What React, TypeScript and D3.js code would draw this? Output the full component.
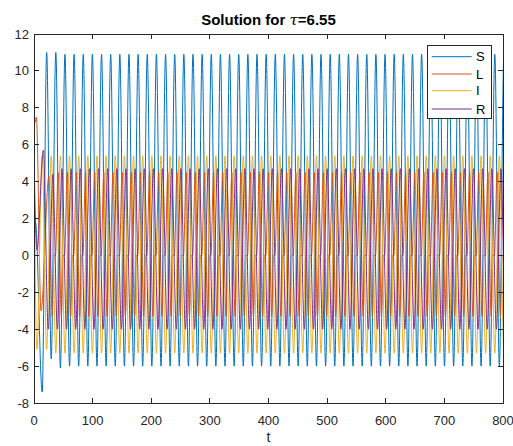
import React from 'react';
import * as d3 from 'd3';

// Times of the S maxima in the steady oscillation (one per cycle)
const cycleT = [
  21.6, 37.2, 52.8, 68.4, 84.0, 99.6, 115.2, 130.8, 146.4, 162.0,
  177.6, 193.2, 208.8, 224.4, 240.0, 255.6, 271.2, 286.8, 302.4, 318.0,
  333.6, 349.2, 364.8, 380.4, 396.0, 411.6, 427.2, 442.8, 458.4, 474.0,
  489.6, 505.2, 520.8, 536.4, 552.0, 567.6, 583.2, 598.8, 614.4, 630.0,
  645.6, 661.2, 676.8, 692.4, 708.0, 723.6, 739.2, 754.8, 770.4, 786.0,
  801.6,
];

// Per-cycle maxima / minima of each compartment
const sHigh = [11.0, 11.0, 10.9, 10.9, 10.9, 10.9, 10.9, 10.9, 10.9, 10.9, 10.9, 10.9, 10.9, 10.9, 10.9, 10.9, 10.9, 10.9, 10.9, 10.9, 10.9, 10.9, 10.9, 10.9, 10.9, 10.9, 10.9, 10.9, 10.9, 10.9, 10.9, 10.9, 10.9, 10.9, 10.9, 10.9, 10.9, 10.9, 10.9, 10.9, 10.9, 10.9, 10.9, 10.9, 10.9, 10.9, 10.9, 10.9, 10.9, 10.9, 10.9];
const sLow = [-5.6, -6.1, -6.0, -6.0, -6.0, -6.0, -6.0, -6.0, -6.0, -6.0, -6.0, -6.0, -6.0, -6.0, -6.0, -6.0, -6.0, -6.0, -6.0, -6.0, -6.0, -6.0, -6.0, -6.0, -6.0, -6.0, -6.0, -6.0, -6.0, -6.0, -6.0, -6.0, -6.0, -6.0, -6.0, -6.0, -6.0, -6.0, -6.0, -6.0, -6.0, -6.0, -6.0, -6.0, -6.0, -6.0, -6.0, -6.0, -6.0, -6.0, -6.0];
const lHigh = [4.3, 4.5, 4.5, 4.5, 4.5, 4.5, 4.5, 4.5, 4.5, 4.5, 4.5, 4.5, 4.5, 4.5, 4.5, 4.5, 4.5, 4.5, 4.5, 4.5, 4.5, 4.5, 4.5, 4.5, 4.5, 4.5, 4.5, 4.5, 4.5, 4.5, 4.5, 4.5, 4.5, 4.5, 4.5, 4.5, 4.5, 4.5, 4.5, 4.5, 4.5, 4.5, 4.5, 4.5, 4.5, 4.5, 4.5, 4.5, 4.5, 4.5, 4.5];
const lLow = [-3.3, -3.3, -3.3, -3.3, -3.3, -3.3, -3.3, -3.3, -3.3, -3.3, -3.3, -3.3, -3.3, -3.3, -3.3, -3.3, -3.3, -3.3, -3.3, -3.3, -3.3, -3.3, -3.3, -3.3, -3.3, -3.3, -3.3, -3.3, -3.3, -3.3, -3.3, -3.3, -3.3, -3.3, -3.3, -3.3, -3.3, -3.3, -3.3, -3.3, -3.3, -3.3, -3.3, -3.3, -3.3, -3.3, -3.3, -3.3, -3.3, -3.3, -3.3];
// L lingers near zero on its way back up from each minimum
const lRest = [0, 0, 0, 0, 0, 0, 0, 0, 0, 0, 0, 0, 0, 0, 0, 0, 0, 0, 0, 0, 0, 0, 0, 0, 0, 0, 0, 0, 0, 0, 0, 0, 0, 0, 0, 0, 0, 0, 0, 0, 0, 0, 0, 0, 0, 0, 0, 0, 0, 0, 0];
const iHigh = [5.4, 5.4, 5.4, 5.4, 5.4, 5.4, 5.4, 5.4, 5.4, 5.4, 5.4, 5.4, 5.4, 5.4, 5.4, 5.4, 5.4, 5.4, 5.4, 5.4, 5.4, 5.4, 5.4, 5.4, 5.4, 5.4, 5.4, 5.4, 5.4, 5.4, 5.4, 5.4, 5.4, 5.4, 5.4, 5.4, 5.4, 5.4, 5.4, 5.4, 5.4, 5.4, 5.4, 5.4, 5.4, 5.4, 5.4, 5.4, 5.4, 5.4, 5.4];
const iLow = [-5.1, -5.3, -5.3, -5.3, -5.3, -5.3, -5.3, -5.3, -5.3, -5.3, -5.3, -5.3, -5.3, -5.3, -5.3, -5.3, -5.3, -5.3, -5.3, -5.3, -5.3, -5.3, -5.3, -5.3, -5.3, -5.3, -5.3, -5.3, -5.3, -5.3, -5.3, -5.3, -5.3, -5.3, -5.3, -5.3, -5.3, -5.3, -5.3, -5.3, -5.3, -5.3, -5.3, -5.3, -5.3, -5.3, -5.3, -5.3, -5.3, -5.3, -5.3];
const rHigh = [4.4, 4.7, 4.7, 4.7, 4.7, 4.7, 4.7, 4.7, 4.7, 4.7, 4.7, 4.7, 4.7, 4.7, 4.7, 4.7, 4.7, 4.7, 4.7, 4.7, 4.7, 4.7, 4.7, 4.7, 4.7, 4.7, 4.7, 4.7, 4.7, 4.7, 4.7, 4.7, 4.7, 4.7, 4.7, 4.7, 4.7, 4.7, 4.7, 4.7, 4.7, 4.7, 4.7, 4.7, 4.7, 4.7, 4.7, 4.7, 4.7, 4.7, 4.7];
const rLow = [-4.0, -4.0, -4.0, -4.0, -4.0, -4.0, -4.0, -4.0, -4.0, -4.0, -4.0, -4.0, -4.0, -4.0, -4.0, -4.0, -4.0, -4.0, -4.0, -4.0, -4.0, -4.0, -4.0, -4.0, -4.0, -4.0, -4.0, -4.0, -4.0, -4.0, -4.0, -4.0, -4.0, -4.0, -4.0, -4.0, -4.0, -4.0, -4.0, -4.0, -4.0, -4.0, -4.0, -4.0, -4.0, -4.0, -4.0, -4.0, -4.0, -4.0, -4.0];

// Start-up transient before the steady cycle sets in: [t, value]
const sStart: [number, number][] = [[0, 1.5], [2.5, 1.8], [14, -7.4]];
const lStart: [number, number][] = [[0, 7.7], [1.5, 7.2], [4, 7.5], [12, -3.0]];
const iStart: [number, number][] = [[0, 5.2], [5, -5.1], [14, 5.4]];
const rStart: [number, number][] = [[0, 5.3], [5, 0.3], [16, 5.7]];

const seriesNames = ['S', 'L', 'I', 'R'];
const seriesColors = ['#0072BD', '#D95319', '#EDB120', '#7E2F8E'];

const xTicks = [0, 100, 200, 300, 400, 500, 600, 700, 800];
const yTicks = [-8, -6, -4, -2, 0, 2, 4, 6, 8, 10, 12];

const W = 513;
const H = 446;
const left = 34;
const right = 503;
const top = 34;
const bottom = 403;

type Pt = [number, number];

// Steady-cycle extrema placed at fixed lags (time units) after each S maximum
function buildSeries(start: Pt[], parts: { lag: number; vals: number[] }[]): Pt[] {
  const pts: Pt[] = [...start];
  const t0 = start.length ? start[start.length - 1][0] : -Infinity;
  cycleT.forEach((t, k) => {
    parts.forEach((p) => {
      const tt = t + p.lag;
      if (tt > t0) pts.push([tt, p.vals[k]]);
    });
  });
  return pts.sort((a, b) => a[0] - b[0]);
}

export default function App() {
  const x = d3.scaleLinear().domain([0, 800]).range([left, right]);
  const y = d3.scaleLinear().domain([-8, 12]).range([bottom, top]);

  const series = [
    buildSeries(sStart, [
      { lag: 0, vals: sHigh },
      { lag: 7.8, vals: sLow },
    ]),
    buildSeries(lStart, [
      { lag: 3.9, vals: lHigh },
      { lag: 9.4, vals: lLow },
      { lag: 12.6, vals: lRest },
      { lag: 15.0, vals: lRest },
    ]),
    buildSeries(iStart, [
      { lag: 7.8, vals: iHigh },
      { lag: 0, vals: iLow },
    ]),
    buildSeries(rStart, [
      { lag: 10.5, vals: rHigh },
      { lag: 2.7, vals: rLow },
    ]),
  ];

  const line = d3
    .line<Pt>()
    .x((d) => x(d[0]))
    .y((d) => y(d[1]))
    .curve(d3.curveMonotoneX);

  const axisColor = '#262626';
  const tickLen = 5;
  const font = 'Arial, "Liberation Sans", Helvetica, sans-serif';

  const legX = 427.5;
  const legY = 45.5;
  const legW = 64;
  const legH = 73;
  const legRowY = [56.7, 74, 90.7, 109];

  return (
    <svg
      width={W}
      height={H}
      style={{ position: 'absolute', left: 0, top: 0, background: '#fff' }}
      fontFamily={font}
    >
      <rect x={0} y={0} width={W} height={H} fill="#fff" />
      <defs>
        <clipPath id="plot-area">
          <rect x={left} y={top} width={right - left} height={bottom - top} />
        </clipPath>
      </defs>

      <g clipPath="url(#plot-area)">
        {series.map((pts, i) => (
          <path
            key={seriesNames[i]}
            d={line(pts) || ''}
            fill="none"
            stroke={seriesColors[i]}
            strokeWidth={1}
          />
        ))}
      </g>

      {/* axes box */}
      <rect
        x={left}
        y={top}
        width={right - left}
        height={bottom - top}
        fill="none"
        stroke={axisColor}
        strokeWidth={1}
        shapeRendering="crispEdges"
      />

      {/* x ticks (bottom and top) */}
      {xTicks.map((t) => (
        <g key={'x' + t}>
          <line x1={x(t)} x2={x(t)} y1={bottom} y2={bottom - tickLen} stroke={axisColor} shapeRendering="crispEdges" />
          <line x1={x(t)} x2={x(t)} y1={top} y2={top + tickLen} stroke={axisColor} shapeRendering="crispEdges" />
          <text x={x(t)} y={425} fontSize={13} fill={axisColor} textAnchor="middle">
            {t}
          </text>
        </g>
      ))}

      {/* y ticks (left and right) */}
      {yTicks.map((t) => (
        <g key={'y' + t}>
          <line x1={left} x2={left + tickLen} y1={y(t)} y2={y(t)} stroke={axisColor} shapeRendering="crispEdges" />
          <line x1={right} x2={right - tickLen} y1={y(t)} y2={y(t)} stroke={axisColor} shapeRendering="crispEdges" />
          <text x={29} y={y(t)} dy="0.35em" fontSize={13} fill={axisColor} textAnchor="end">
            {t}
          </text>
        </g>
      ))}

      {/* title */}
      <text x={(left + right) / 2} y={25} fontSize={15} fontWeight="bold" fill="#000" textAnchor="middle">
        Solution for <tspan fontStyle="italic" fontWeight="normal" fontFamily="'DejaVu Serif', serif">τ</tspan>=6.55
      </text>

      {/* x label */}
      <text x={(left + right) / 2} y={442} fontSize={14} fill={axisColor} textAnchor="middle">
        t
      </text>

      {/* legend */}
      <rect x={legX} y={legY} width={legW} height={legH} fill="#fff" stroke={axisColor} strokeWidth={1} shapeRendering="crispEdges" />
      {seriesNames.map((n, i) => (
        <g key={'leg' + n}>
          <line x1={431.7} x2={471.7} y1={legRowY[i]} y2={legRowY[i]} stroke={seriesColors[i]} strokeWidth={1} />
          <text x={476} y={legRowY[i]} dy="0.35em" fontSize={13} fill="#000">
            {n}
          </text>
        </g>
      ))}
    </svg>
  );
}
